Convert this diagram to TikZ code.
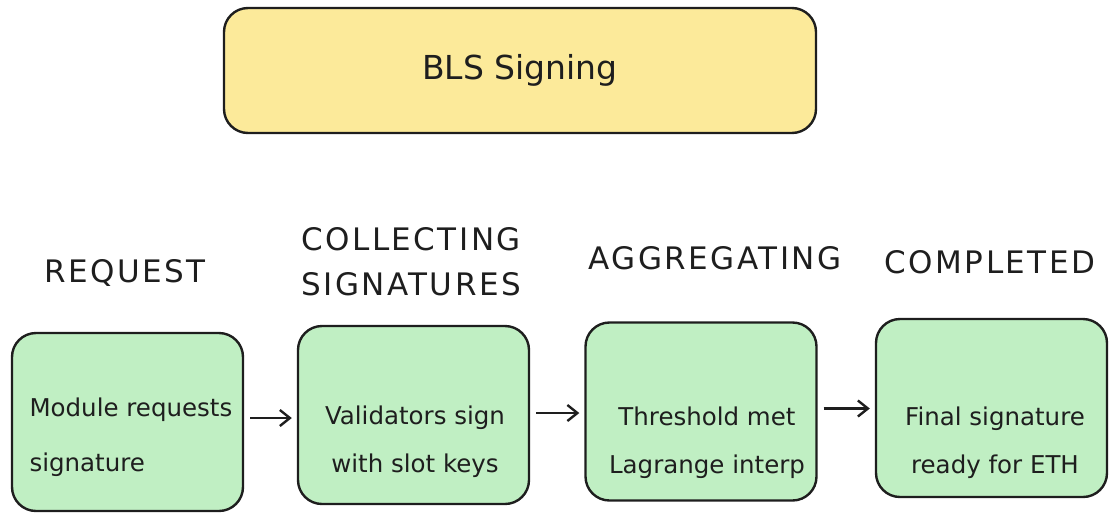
\documentclass[tikz,border=0pt]{standalone}
\usepackage{fontspec}
\setmainfont{DejaVu Sans}
\usetikzlibrary{arrows.meta}

\definecolor{ink}{HTML}{1E1E1E}
\definecolor{titleyellow}{HTML}{FCEA9A}
\definecolor{stagegreen}{HTML}{C0EFC3}

\begin{document}
\begin{tikzpicture}[x=1pt, y=-1pt,
   every node/.style={text=ink},
   header/.style={draw=ink, fill=titleyellow, line width=2.4pt, rounded corners=24pt,
                  minimum width=592pt, minimum height=125pt, font=\fontsize{33}{38}\selectfont},
   stage/.style={draw=ink, fill=stagegreen, line width=2.4pt, rounded corners=24pt,
                 minimum width=231pt, minimum height=178pt},
   body/.style={align=center, font=\fontsize{24.5}{48}\selectfont},
   phase/.style={align=center, font=\fontsize{31}{45}\selectfont\addfontfeatures{LetterSpace=8}},
   flow/.style={draw=ink, line width=2.4pt, -{Straight Barb[length=10pt, width=16pt, line width=2.4pt]},
                shorten <=6pt, shorten >=5pt}]

\useasboundingbox (0,0) rectangle (1110,512);

\node[header] (bls) at (520,70.5) {BLS Signing};

% stages
\node[stage] (request) at (127.5,422) {};
\node[stage] (collect) at (413.5,415) {};
\node[stage] (aggregate) at (701,411.5) {};
\node[stage] (done) at (991.5,408) {};

\node[body, align=left, anchor=west, font=\fontsize{24.5}{55}\selectfont] (request-text) at (26,437) {Module requests\\signature};
\node[body] (collect-text) at (415,442) {Validators sign\\with slot keys};
\node[body] (aggregate-text) at (707,443) {Threshold met\\Lagrange interp};
\node[body] (done-text) at (995,442.5) {Final signature\\ready for ETH};

% phase names
\node[phase] (request-name) at (125,273) {REQUEST};
\node[phase] (collect-name) at (411,262) {COLLECTING\\SIGNATURES};
\node[phase] (aggregate-name) at (715,258) {AGGREGATING};
\node[phase] (done-name) at (990,262) {COMPLETED};

\draw[flow] ([yshift=4pt]request.east) -- ([yshift=4pt]request.east -| collect.west);
\draw[flow] ([yshift=2pt]collect.east) -- ([yshift=2pt]collect.east -| aggregate.west);
\draw[flow] ([yshift=3pt]aggregate.east) -- ([yshift=3pt]aggregate.east -| done.west);

\end{tikzpicture}
\end{document}
